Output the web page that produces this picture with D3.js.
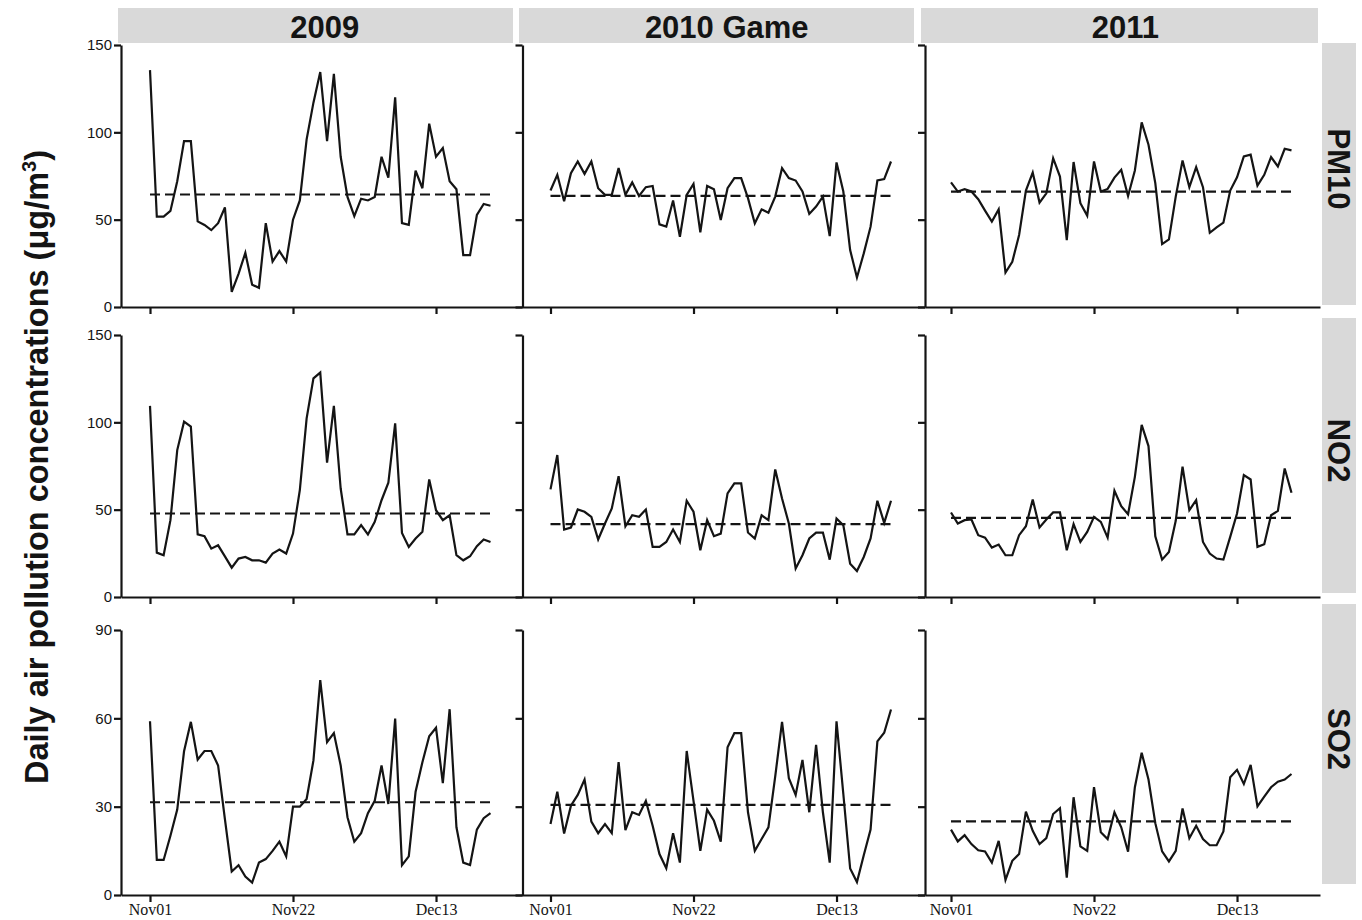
<!DOCTYPE html>
<html><head><meta charset="utf-8">
<script src="https://cdn.jsdelivr.net/npm/d3@7/dist/d3.min.js"></script>
<style>body{margin:0;background:#fff}</style>
</head><body><svg id="chart" width="1362" height="920"></svg>
<script>
const years = ["2009", "2010 Game", "2011"];
const pollutants = ["PM10", "NO2", "SO2"];
const xTickDays = [0, 21, 42];
const xTickLabels = ["Nov01", "Nov22", "Dec13"];
const yTicksPM10 = [0, 50, 100, 150];
const yTicksNO2 = [0, 50, 100, 150];
const yTicksSO2 = [0, 30, 60, 90];
const yMax = [150, 150, 90];

const pm10_2009 = [135.6,51.7,51.7,55,72,95,95,49,47,44,48,57,8.6,19,31,12.8,11,48,26,32,26,50,61,96,117,134.5,95,133.5,86,63,52,62,61,63,86,74,120,48,47,78,68,105,86,91,72,67.4,29.7,29.7,52.7,59,58];
const pm10_2010 = [66.7,75.7,60.5,76.6,83.3,76.2,83.3,68,64.2,64.2,79.5,64.2,71.3,63.6,68.6,69.3,47.3,46,61,40.2,64.2,70.5,42.7,69.3,67.4,49.8,68,73.8,73.8,62.3,47.9,55.9,54,63.2,79.5,73.8,72.4,66.1,53.3,57.5,63.2,40.6,82.8,66.1,32.6,16.9,30.7,46,72.4,73.2,83.3];
const pm10_2011 = [71.3,66.1,67.4,66.1,61.7,55.2,48.9,55.9,19.7,25.9,41.2,66.7,77,59.8,65.1,85.2,74.7,38.3,83,59.4,52.3,83.3,66.1,67.6,74.1,78.5,63.6,78.2,105.7,92.9,70.9,36,38.7,63.2,83.9,68.6,80,68.6,42.5,45.6,48.3,66.7,74.3,86.2,87.2,69.5,75.7,85.8,80.5,90.6,89.7];
const no2_2009 = [109.4,25.4,23.9,44,84.1,100.4,97.5,35.9,34.8,27.7,29.6,23.3,16.8,22,22.9,21,21,19.7,24.9,27.2,24.9,36.3,61.2,102.3,125.2,128.5,76.9,109.4,62.1,35.9,35.9,41.1,35.8,43,55.4,65.4,99.4,36.7,28.7,33.5,37.3,67.3,49.7,44,46.8,23.9,21,23.3,29.1,32.9,31.5];
const no2_2010 = [61.6,81.3,38.6,39.8,50.1,48.8,45.9,32.9,42.1,50.7,69.2,40.5,46.8,45.9,50.1,28.7,28.7,31.5,38.6,31.5,55.1,48.8,26.8,44,34.8,36.3,59.3,65,65,36.9,33.5,46.8,44,73,56.4,42.1,16.3,23.9,33.5,36.9,36.9,21.4,44.9,41.1,19.1,14.9,22.9,33.5,55.1,42.4,55.1];
const no2_2011 = [48.4,42.1,44,44.4,35.4,34,28.3,30,23.9,23.9,35.4,40.5,55.8,39.8,44.4,48.4,48.4,26.8,41.7,31.5,37.3,45.9,43,34,60.8,52,47.4,68.8,98.5,86.4,34.8,21.4,25.8,43.6,74.6,49.7,55.4,31.5,24.9,22,21.4,34.4,47.8,69.8,67.3,28.7,30.2,46.8,49.3,73.6,59.7];
const so2_2009 = [59,11.9,11.9,20.1,29,48.8,58.8,46,48.9,48.9,44,25.8,8,10.1,6.3,4.2,11,12.2,15,18.1,13.1,30,30,32.6,45.7,73,51.9,55,44,26.4,18.1,21,27.8,32,44,30.9,59.9,10.1,13.1,35.1,45.1,53.9,56.8,38,63.1,23,11,10.2,22.2,26.1,27.8];
const so2_2010 = [24.1,35.1,20.9,30.3,34,39.2,24.9,21,24.1,21,45.1,22,28.1,27.2,32,23.5,13.9,9.1,21,11,48.9,32,15,29,25.2,18.1,50.2,55,55,28.1,15,19,23,40.3,58.8,39.7,34,45.9,28.1,51,28.1,11,59,34.3,9,4.4,13.5,22.2,52.2,55.1,63];
const so2_2011 = [22.2,18.2,20.3,17.3,15.2,14.8,11,18.4,5.1,11.6,13.9,28.3,21.8,17.3,19.3,27.5,29.5,5.9,33.2,16.5,15,36.6,21.3,19,28.1,23,14.7,36.6,48.3,39.2,24.4,14.8,11.4,15,29.4,19.3,23.5,19,16.9,16.9,21.6,40,42.5,37.7,44.2,30.1,33.4,36.6,38.5,39.2,41.1];

const meanPM10 = [64.4, 63.6, 66.1];
const meanNO2 = [47.8, 41.7, 45.3];
const meanSO2 = [31.5, 30.6, 25.0];

const series = [
  [pm10_2009, pm10_2010, pm10_2011],
  [no2_2009, no2_2010, no2_2011],
  [so2_2009, so2_2010, so2_2011]
];
const means = [meanPM10, meanNO2, meanSO2];
const yTicks = [yTicksPM10, yTicksNO2, yTicksSO2];

// layout
const axisX = [121, 522.5, 925];
const panelW = [401.5, 402.5, 395];
const nov01X = [150, 550.5, 951];
const pxPerDay = 6.81;
const rowTop = [45, 335, 630];
const rowBot = [307, 597, 895];
const stripTop = {x: [118, 519, 921], w: [395, 395, 397], y: 8, h: 35};
const stripRight = {x: 1322, w: 34, y: [43, 318, 604], y2: [305, 593, 884]};

const svg = d3.select("#chart");
const sans = "'Liberation Sans', Arial, sans-serif";
const serif = "'Liberation Serif', 'Times New Roman', serif";
const ink = "#141414";
const sw = 2.2;

// top strips
years.forEach((yr, c) => {
  svg.append("rect").attr("x", stripTop.x[c]).attr("y", stripTop.y)
    .attr("width", stripTop.w[c]).attr("height", stripTop.h).attr("fill", "#d9d9d9");
  svg.append("text").attr("x", axisX[c] + panelW[c] / 2 + 3).attr("y", 37.5)
    .attr("text-anchor", "middle").attr("font-family", sans).attr("font-weight", "bold")
    .attr("font-size", 31).attr("fill", ink).text(yr);
});
// right strips
pollutants.forEach((p, r) => {
  const y0 = stripRight.y[r], y1 = stripRight.y2[r];
  svg.append("rect").attr("x", stripRight.x).attr("y", y0)
    .attr("width", stripRight.w).attr("height", y1 - y0).attr("fill", "#d9d9d9");
  svg.append("text")
    .attr("transform", `translate(${stripRight.x + stripRight.w / 2},${(y0 + y1) / 2 - 5}) rotate(90)`)
    .attr("y", 11).attr("text-anchor", "middle").attr("font-family", sans).attr("font-weight", "bold")
    .attr("font-size", 31).attr("fill", ink).text(p);
});

// y title
const yt = svg.append("text")
  .attr("transform", "translate(36,467) rotate(-90)")
  .attr("y", 11.5).attr("text-anchor", "middle").attr("font-family", sans).attr("font-weight", "bold")
  .attr("font-size", 32.5).attr("fill", ink);
yt.append("tspan").text("Daily air pollution concentrations (\u03bcg/m");
yt.append("tspan").attr("font-size", 20).attr("dy", -12).text("3");
yt.append("tspan").attr("dy", 12).text(")");

for (let r = 0; r < 3; r++) {
  for (let c = 0; c < 3; c++) {
    const x = d3.scaleLinear()
      .domain([(axisX[c] - nov01X[c]) / pxPerDay, (axisX[c] + panelW[c] - nov01X[c]) / pxPerDay])
      .range([axisX[c], axisX[c] + panelW[c]]);
    const y = d3.scaleLinear().domain([0, yMax[r]]).range([rowBot[r], rowTop[r]]);
    const g = svg.append("g");

    // x axis
    const xa = g.append("g").attr("transform", `translate(0,${rowBot[r]})`)
      .call(d3.axisBottom(x).tickValues(xTickDays).tickSize(7).tickSizeOuter(0).tickPadding(2)
        .tickFormat((d, i) => r === 2 ? xTickLabels[i] : ""));
    xa.selectAll("path,line").attr("stroke", ink).attr("stroke-width", sw);
    xa.selectAll("text").attr("font-family", serif).attr("font-size", 16).attr("fill", ink);

    // y axis
    const ya = g.append("g").attr("transform", `translate(${axisX[c]},0)`)
      .call(d3.axisLeft(y).tickValues(yTicks[r]).tickSize(7).tickSizeOuter(0).tickPadding(2)
        .tickFormat(d => c === 0 ? d : ""));
    ya.selectAll("path,line").attr("stroke", ink).attr("stroke-width", sw);
    ya.selectAll("text").attr("font-family", sans).attr("font-size", 15).attr("fill", ink);

    const data = series[r][c];
    // mean dashed line
    g.append("line")
      .attr("x1", x(0)).attr("x2", x(data.length - 1))
      .attr("y1", y(means[r][c])).attr("y2", y(means[r][c]))
      .attr("stroke", ink).attr("stroke-width", sw).attr("stroke-dasharray", "10,5");
    // series line
    const line = d3.line().x((d, i) => x(i)).y(d => y(d));
    g.append("path").datum(data).attr("d", line)
      .attr("fill", "none").attr("stroke", ink).attr("stroke-width", sw);
  }
}
</script>
</body></html>
